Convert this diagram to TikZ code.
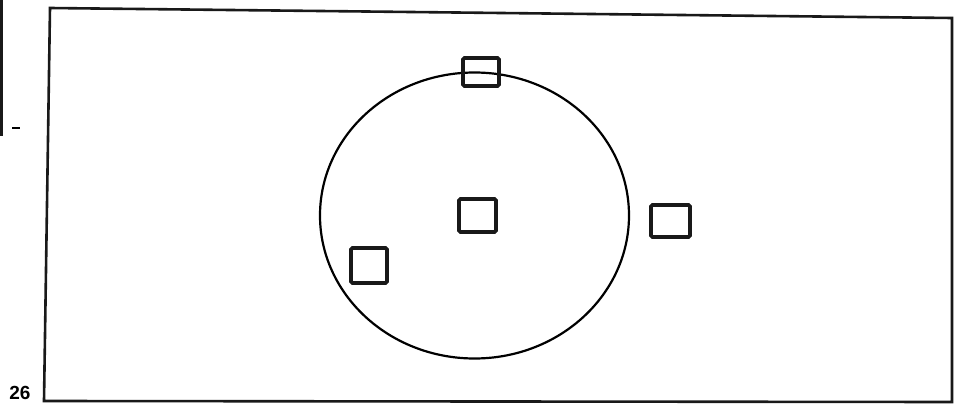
\documentclass[tikz,border=0pt]{standalone}
\usepackage{fontspec}
\setmainfont{Liberation Sans}
\begin{document}
\begin{tikzpicture}[x=1pt,y=-1pt,
  boxmark/.style={draw=black!90,line width=3.8pt,rounded corners=1.5pt,inner sep=0pt,minimum width=#1},
  frameline/.style={draw=black!90,line width=2.6pt},
]
\useasboundingbox (0,0) rectangle (954,412);
\fill[white] (0,0) rectangle (954,412);
% outer frame (slightly skewed as scanned)
\draw[frameline] (50,8) -- (952,18) -- (952,402) -- (44,401) -- cycle;
% edge of neighbouring box at left
\draw[draw=black!90,line width=3pt] (1.5,0) -- (1.5,136);
\draw[line width=2pt] (12,128) -- (20,128);
\node[font=\bfseries\fontsize{19}{21}\selectfont,anchor=center] (pg) at (20,393) {26};
% circle
\draw[line width=2.2pt] (474.5,215.5) ellipse [x radius=154.5, y radius=143];
% squares
\node[boxmark=36pt,minimum height=28pt] (top) at (481,72) {};
\node[boxmark=37pt,minimum height=33pt] (mid) at (477.5,215.5) {};
\node[boxmark=36pt,minimum height=35pt] (low) at (369,265.5) {};
\node[boxmark=39pt,minimum height=32pt] (out) at (670.5,221) {};
\end{tikzpicture}
\end{document}
